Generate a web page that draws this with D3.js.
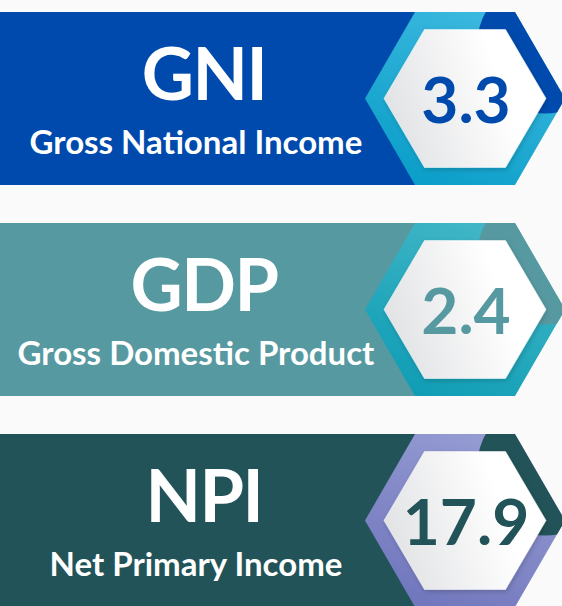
<!DOCTYPE html>
<html>
<head>
<meta charset="utf-8">
<script src="https://cdn.jsdelivr.net/npm/d3@7"></script>
<style>
  html, body { margin: 0; padding: 0; background: #fafafa; }
  svg { display: block; }
</style>
</head>
<body>
<div id="chart"></div>
<script>
// the three indicators
var codes  = ['GNI', 'GDP', 'NPI'];
var names  = ['Gross National Income', 'Gross Domestic Product', 'Net Primary Income'];
var values = [3.3, 2.4, 17.9];

// banner colour, ring light, ring dark
var palette = [
    { base: '#004aad', ringA: '#3fbae0', ringB: '#0a9ec8' },
    { base: '#5799a1', ringA: '#45b8c8', ringB: '#0f9db5' },
    { base: '#225358', ringA: '#989ed4', ringB: '#7076bc' }
];

function main(){
    var width = 562, height = 606;

    var rows = codes.map(function(c, i){
        return { code: c, name: names[i], value: values[i], col: palette[i], i: i };
    });

    // vertical bands for the banners
    var y = d3.scaleBand()
              .domain(codes)
              .range([12, 607])
              .paddingInner(38 / 211)
              .paddingOuter(0);

    var bh = y.bandwidth();

    var svg = d3.select('#chart').append('svg')
                .attr('width', width)
                .attr('height', height);

    svg.append('rect')
       .attr('width', width).attr('height', height)
       .attr('fill', '#fafafa');

    // hexagon (flat top) around centre cx, cy
    var cx = 465, cy = bh / 2;
    function hex(r, hh){
        var pts = [[cx - r, cy], [cx - r / 2, cy - hh], [cx + r / 2, cy - hh],
                   [cx + r, cy], [cx + r / 2, cy + hh], [cx - r / 2, cy + hh]];
        return d3.line()(pts) + 'Z';
    }

    var defs = svg.append('defs');

    defs.append('clipPath').attr('id', 'outerClip')
        .append('path').attr('d', hex(100, bh / 2));

    var fg = defs.append('filter').attr('id', 'shadow')
        .attr('x', '-20%').attr('y', '-20%').attr('width', '140%').attr('height', '140%');
    fg.append('feDropShadow')
      .attr('dx', 1).attr('dy', 2).attr('stdDeviation', 2.5)
      .attr('flood-color', '#000').attr('flood-opacity', 0.18);

    var wg = defs.append('linearGradient').attr('id', 'whiteGrad')
        .attr('x1', 0).attr('y1', 0.5).attr('x2', 0.7).attr('y2', 0.3);
    wg.append('stop').attr('offset', 0).attr('stop-color', '#e2e3e5');
    wg.append('stop').attr('offset', 1).attr('stop-color', '#ffffff');

    rows.forEach(function(d){
        var g = defs.append('linearGradient').attr('id', 'ring' + d.i)
            .attr('x1', 0.75).attr('y1', 0).attr('x2', 0.25).attr('y2', 1);
        g.append('stop').attr('offset', 0).attr('stop-color', d.col.ringA);
        g.append('stop').attr('offset', 1).attr('stop-color', d.col.ringB);
    });

    var row = svg.selectAll('.row')
       .data(rows)
     .enter().append('g')
       .attr('class', 'row')
       .attr('transform', function(d){ return 'translate(0,' + y(d.code) + ')'; });

    // banner body
    row.append('rect')
       .attr('x', 0).attr('y', 0)
       .attr('width', cx).attr('height', bh)
       .attr('fill', function(d){ return d.col.base; });

    // outer hexagon ring
    row.append('path')
       .attr('d', hex(100, bh / 2))
       .attr('fill', function(d){ return 'url(#ring' + d.i + ')'; });

    // banner-coloured blob on the upper right of the ring
    row.append('circle')
       .attr('clip-path', 'url(#outerClip)')
       .attr('cx', cx + 80).attr('cy', cy - 53).attr('r', 68)
       .attr('fill', function(d){ return d.col.base; });

    // inner white hexagon
    row.append('path')
       .attr('d', hex(81, 69))
       .attr('fill', 'url(#whiteGrad)')
       .attr('stroke', '#ffffff').attr('stroke-width', 0.5)
       .attr('stroke-linejoin', 'round')
       .attr('filter', 'url(#shadow)');

    // value
    row.append('text')
       .attr('x', cx + 1).attr('y', 111)
       .attr('text-anchor', 'middle')
       .attr('font-family', 'Lato, sans-serif')
       .attr('font-weight', 700)
       .attr('font-size', 64)
       .attr('fill', function(d){ return d.col.base; })
       .text(function(d){ return d3.format('.1f')(d.value); });

    // title
    row.append('text')
       .attr('x', 204).attr('y', 88)
       .attr('text-anchor', 'middle')
       .attr('font-family', 'Lato, sans-serif')
       .attr('font-weight', 700)
       .attr('font-size', 72)
       .attr('letter-spacing', -1.5)
       .attr('fill', '#ffffff')
       .text(function(d){ return d.code; });

    // subtitle
    row.append('text')
       .attr('x', 196).attr('y', 142)
       .attr('text-anchor', 'middle')
       .attr('font-family', 'Lato, sans-serif')
       .attr('font-weight', 700)
       .attr('font-size', 33)
       .attr('fill', '#ffffff')
       .text(function(d){ return d.name; });
}

main();
</script>
</body>
</html>
